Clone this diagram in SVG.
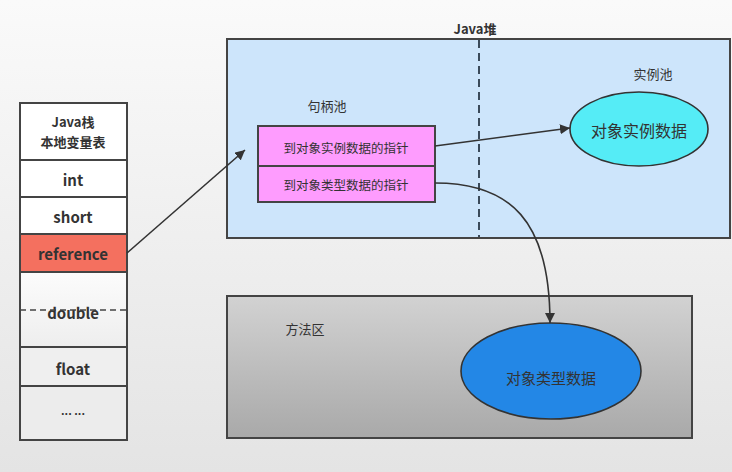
<svg xmlns="http://www.w3.org/2000/svg" width="732" height="472" viewBox="0 0 732 472">
<defs>
<linearGradient id="bg" x1="0" y1="0" x2="0" y2="1"><stop offset="0" stop-color="#fafafa"/><stop offset="1" stop-color="#e4e4e4"/></linearGradient>
<linearGradient id="gray" x1="0" y1="0" x2="0" y2="1"><stop offset="0" stop-color="#d2d2d2"/><stop offset="1" stop-color="#a9a9a9"/></linearGradient>
<linearGradient id="cell" x1="0" y1="0" x2="0" y2="1"><stop offset="0" stop-color="#fcfcfc"/><stop offset="1" stop-color="#eeeeee"/></linearGradient>
<marker id="ah" viewBox="0 0 10 10" refX="10" refY="5" markerWidth="10" markerHeight="10" markerUnits="userSpaceOnUse" orient="auto"><path d="M0,0 L10,5 L0,10 z" fill="#333"/></marker>
<style>
.t{font-family:"Noto Sans CJK SC","Liberation Sans",sans-serif;fill:#333;text-anchor:middle;dominant-baseline:central}
.b{font-weight:bold}
.box{stroke:#444;stroke-width:2}
.ln{fill:none;stroke:#333;stroke-width:1.6}
</style>
</defs>
<rect width="732" height="472" fill="url(#bg)"/>

<g id="stack">
<rect x="20" y="103" width="107" height="337" fill="url(#cell)" class="box"/>
<rect x="20" y="103" width="107" height="57" fill="#fff" class="box"/>
<text class="t b" x="73" y="121" font-size="13">Java栈</text>
<text class="t b" x="73" y="141" font-size="13">本地变量表</text>
<rect x="20" y="160" width="107" height="37" fill="#fff" class="box"/>
<text class="t b" x="73" y="179" font-size="15">int</text>
<rect x="20" y="197" width="107" height="37" fill="#fff" class="box"/>
<text class="t b" x="73" y="216" font-size="15">short</text>
<rect x="20" y="234" width="107" height="38" fill="#f4705f" class="box"/>
<text class="t b" x="73" y="253" font-size="15">reference</text>
<rect x="20" y="272" width="107" height="75" fill="url(#cell)" class="box"/>
<text class="t b" x="73" y="312" font-size="15">double</text>
<line x1="20" y1="310" x2="127" y2="310" stroke="#444" stroke-width="1.6" stroke-dasharray="6,4"/>
<rect x="20" y="347" width="107" height="39" fill="#efefef" class="box"/>
<text class="t b" x="73" y="368" font-size="15">float</text>
<rect x="20" y="386" width="107" height="54" fill="#ececec" class="box"/>
<text class="t b" x="73" y="410" font-size="11">... ...</text>
</g>

<g id="heap">
<rect x="227" y="39" width="503" height="199" fill="#cde5fb" class="box"/>
<line x1="479" y1="40" x2="479" y2="237" stroke="#3a4a5a" stroke-width="2" stroke-dasharray="8,5"/>
<text class="t b" x="475" y="28" font-size="13">Java堆</text>
<text class="t" x="327" y="105" font-size="13">句柄池</text>
<text class="t" x="653" y="73" font-size="13">实例池</text>
</g>

<g id="handle-pool">
<rect x="258" y="126" width="177" height="40" fill="#fe9cfe" class="box"/>
<text class="t" x="346" y="147" font-size="12.5">到对象实例数据的指针</text>
<rect x="258" y="166" width="177" height="36" fill="#fe9cfe" class="box"/>
<text class="t" x="346" y="184" font-size="12.5">到对象类型数据的指针</text>
</g>

<g id="instance-data">
<ellipse cx="639" cy="129" rx="69" ry="37" fill="#55ecf6" stroke="#333" stroke-width="1.6"/>
<text class="t" x="639" y="130" font-size="16">对象实例数据</text>
</g>

<g id="method-area">
<rect x="227" y="296" width="465" height="142" fill="url(#gray)" class="box"/>
<text class="t" x="305" y="328" font-size="13">方法区</text>
</g>

<g id="type-data">
<ellipse cx="551" cy="371" rx="90" ry="48" fill="#2387e6" stroke="#333" stroke-width="1.6"/>
<text class="t" x="551" y="377" font-size="15">对象类型数据</text>
</g>

<g id="connectors">
<line class="ln" x1="127" y1="253" x2="245" y2="150" marker-end="url(#ah)"/>
<line class="ln" x1="435" y1="146" x2="570" y2="128" marker-end="url(#ah)"/>
<path class="ln" d="M435,183 C510,183 550,220 550,323" marker-end="url(#ah)"/>
</g>
</svg>
